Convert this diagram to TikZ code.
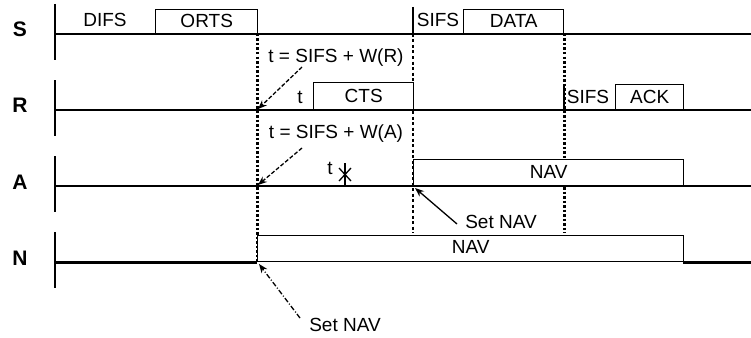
\documentclass[tikz,border=0pt]{standalone}
\usepackage{fontspec}
\setmainfont{Liberation Sans}
\usetikzlibrary{arrows.meta}
\usetikzlibrary{calc}

\begin{document}
\begin{tikzpicture}[x=1pt,y=-1pt,
        every node/.style={font=\fontsize{19}{19}\selectfont,inner sep=0pt},
        lane/.style={line width=1.4pt},
        frame/.style={draw,fill=white,line width=1.4pt,anchor=south west,minimum height=25pt},
        tick/.style={line width=1.8pt},
        bigdots/.style={line width=3pt,dash pattern=on 2.5pt off 2pt},
        smalldots/.style={line width=1.2pt,dash pattern=on 3pt off 2.5pt}]
        \useasboundingbox (0,0) rectangle (751,337);

        % stations
        \node[font=\fontsize{21}{21}\selectfont\bfseries] (S) at (20,29) {S};
        \node[font=\fontsize{21}{21}\selectfont\bfseries] (R) at (20,105) {R};
        \node[font=\fontsize{21}{21}\selectfont\bfseries] (A) at (20,182) {A};
        \node[font=\fontsize{21}{21}\selectfont\bfseries] (N) at (20,258) {N};

        \foreach \y in {34,110,186,262} {
            \draw[tick] (55,\y-30) -- (55,\y+26);
        }
        \draw[lane] (55,34) -- (751,34);
        \draw[lane] (55,110) -- (751,110);
        \draw[lane] (55,186) -- (751,186);
        \draw[line width=3pt] (55,262) -- (257,262);
        \draw[line width=3pt] (683,262) -- (751,262);

        % timing marks
        \draw[line width=1.2pt] (413,7) -- (413,34);
        \draw[smalldots] (413,34) -- (413,233);
        \draw[bigdots] (257,34) -- (257,262);
        \draw[bigdots] (564,34) -- (564,233);
        \draw[line width=2.6pt] (564,85) -- (564,110);

        % frames
        \node (difs) at (105,20) {DIFS};
        \node[frame,minimum width=102pt,minimum height=24pt] (orts) at (155,34) {ORTS};
        \node (sifsS) at (438,20) {SIFS};
        \node[frame,minimum width=100pt,minimum height=24pt] (data) at (463,34) {DATA};
        \node (tR) at (300,97) {t};
        \node[frame,minimum width=100pt,minimum height=27pt] (cts) at (313,110) {CTS};
        \node (sifsR) at (588,97) {SIFS};
        \node[frame,minimum width=68pt] (ack) at (615,110) {ACK};
        \node[frame,minimum width=270pt,minimum height=26pt] (navA) at (413,186) {NAV};
        \node[frame,minimum width=426pt,minimum height=26pt] (navN) at (257,262) {\raisebox{3pt}{NAV}};

        \node (tA) at (330,168) {t};
        \draw[line width=2pt] (345,163) -- (345,186);
        \draw[line width=1.3pt] (339,168) -- (351,181) (339,181) -- (351,168);

        % waits and NAV settings
        \node (wR) at (336,58) {t = SIFS + W(R)};
        \node (wA) at (336,134) {t = SIFS + W(A)};
        \node (setA) at (501,222) {Set NAV};
        \node (setN) at (345,325) {Set NAV};

        \coordinate (wRtail) at (302,67);
        \coordinate (wAtail) at (302,148);
        \coordinate (setAtail) at (457,224);
        \coordinate (setNtail) at (300,318);
        \coordinate (hitR) at (258,109);
        \coordinate (hitA) at (258,185);
        \coordinate (hitAnav) at (415,188);
        \coordinate (hitN) at (259,264);

        \begin{scope}[>={Stealth[black,length=9pt,width=7pt]},
                every edge/.style={draw,line width=1.3pt}]
            \path [->] (wRtail)   edge[dash pattern=on 4pt off 2pt] (hitR);
            \path [->] (wAtail)   edge[dash pattern=on 4pt off 2pt] (hitA);
            \path [->] (setAtail) edge                              (hitAnav);
            \path [->] (setNtail) edge[dash pattern=on 5pt off 2pt on 1pt off 2pt] (hitN);
        \end{scope}
    \end{tikzpicture}
\end{document}
